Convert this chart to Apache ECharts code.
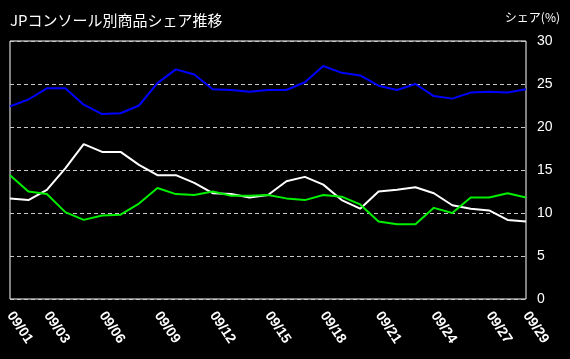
<!DOCTYPE html>
<html><head><meta charset="utf-8">
<script src="https://cdn.jsdelivr.net/npm/echarts@6/dist/echarts.min.js"></script>
<style>html,body{margin:0;padding:0;background:#000;}#c{width:570px;height:359px;}</style>
</head><body><div id="c"></div>
<script>
const categories = ["09/01","09/02","09/03","09/04","09/05","09/06","09/07","09/08","09/09","09/10","09/11","09/12","09/13","09/14","09/15","09/16","09/17","09/18","09/19","09/20","09/21","09/22","09/23","09/24","09/25","09/26","09/27","09/28","09/29"];
const blueSeries  = [22.4,23.2,24.5,24.5,22.6,21.5,21.6,22.5,25.1,26.7,26.1,24.4,24.3,24.1,24.3,24.3,25.2,27.1,26.3,26.0,24.8,24.3,25.0,23.6,23.3,24.0,24.1,24.0,24.4];
const whiteSeries = [11.7,11.5,12.7,15.2,18.0,17.1,17.1,15.6,14.4,14.4,13.5,12.3,12.2,11.8,12.1,13.7,14.2,13.3,11.5,10.5,12.5,12.7,13.0,12.3,10.9,10.5,10.3,9.2,9.0];
const greenSeries = [14.4,12.5,12.2,10.1,9.2,9.7,9.8,11.1,12.9,12.2,12.1,12.5,12.0,12.0,12.1,11.7,11.5,12.1,11.9,11.0,9.0,8.7,8.7,10.6,10.0,11.8,11.8,12.3,11.8];
const labelIdx = [0,2,5,8,11,14,17,20,23,26,28];
const titleText = "JPコンソール別商品シェア推移";
const unitText = "シェア(%)";

const chart = echarts.init(document.getElementById('c'));
chart.setOption({
  backgroundColor: '#000',
  animation: false,
  title: [
    {text: titleText, left: 5, top: 8, textStyle: {color: '#fff', fontSize: 15, fontWeight: 'normal', fontFamily: 'Noto Sans CJK JP'}},
    {text: unitText, right: 5, top: 6, textStyle: {color: '#fff', fontSize: 12, fontWeight: 'normal', fontFamily: 'Noto Sans CJK JP'}}
  ],
  grid: {left: 10, top: 41, width: 516, height: 258, show: true, borderColor: '#fff', borderWidth: 1, backgroundColor: 'transparent'},
  xAxis: {type: 'category', data: categories, boundaryGap: false,
     axisLine: {show: false}, axisTick: {show: false}, splitLine: {show: false},
     axisLabel: {show: true, color: '#fff', fontSize: 14, fontWeight: 'bold', fontFamily: 'Liberation Sans',
       rotate: -56, margin: 14, interval: function(i){ return labelIdx.indexOf(i) >= 0; }}},
  yAxis: {type: 'value', position: 'right', min: 0, max: 30, interval: 5,
     axisLine: {show: false}, axisTick: {show: false},
     axisLabel: {color: '#fff', fontSize: 14, fontFamily: 'Liberation Sans', margin: 11},
     splitLine: {show: true, lineStyle: {color: '#c8c8c8', type: [4, 3], width: 1}}},
  series: [
    {type: 'line', data: blueSeries, symbol: 'none', lineStyle: {color: '#0000ff', width: 2}},
    {type: 'line', data: whiteSeries, symbol: 'none', lineStyle: {color: '#ffffff', width: 2}},
    {type: 'line', data: greenSeries, symbol: 'none', lineStyle: {color: '#00f000', width: 2}}
  ]
});
</script></body></html>
